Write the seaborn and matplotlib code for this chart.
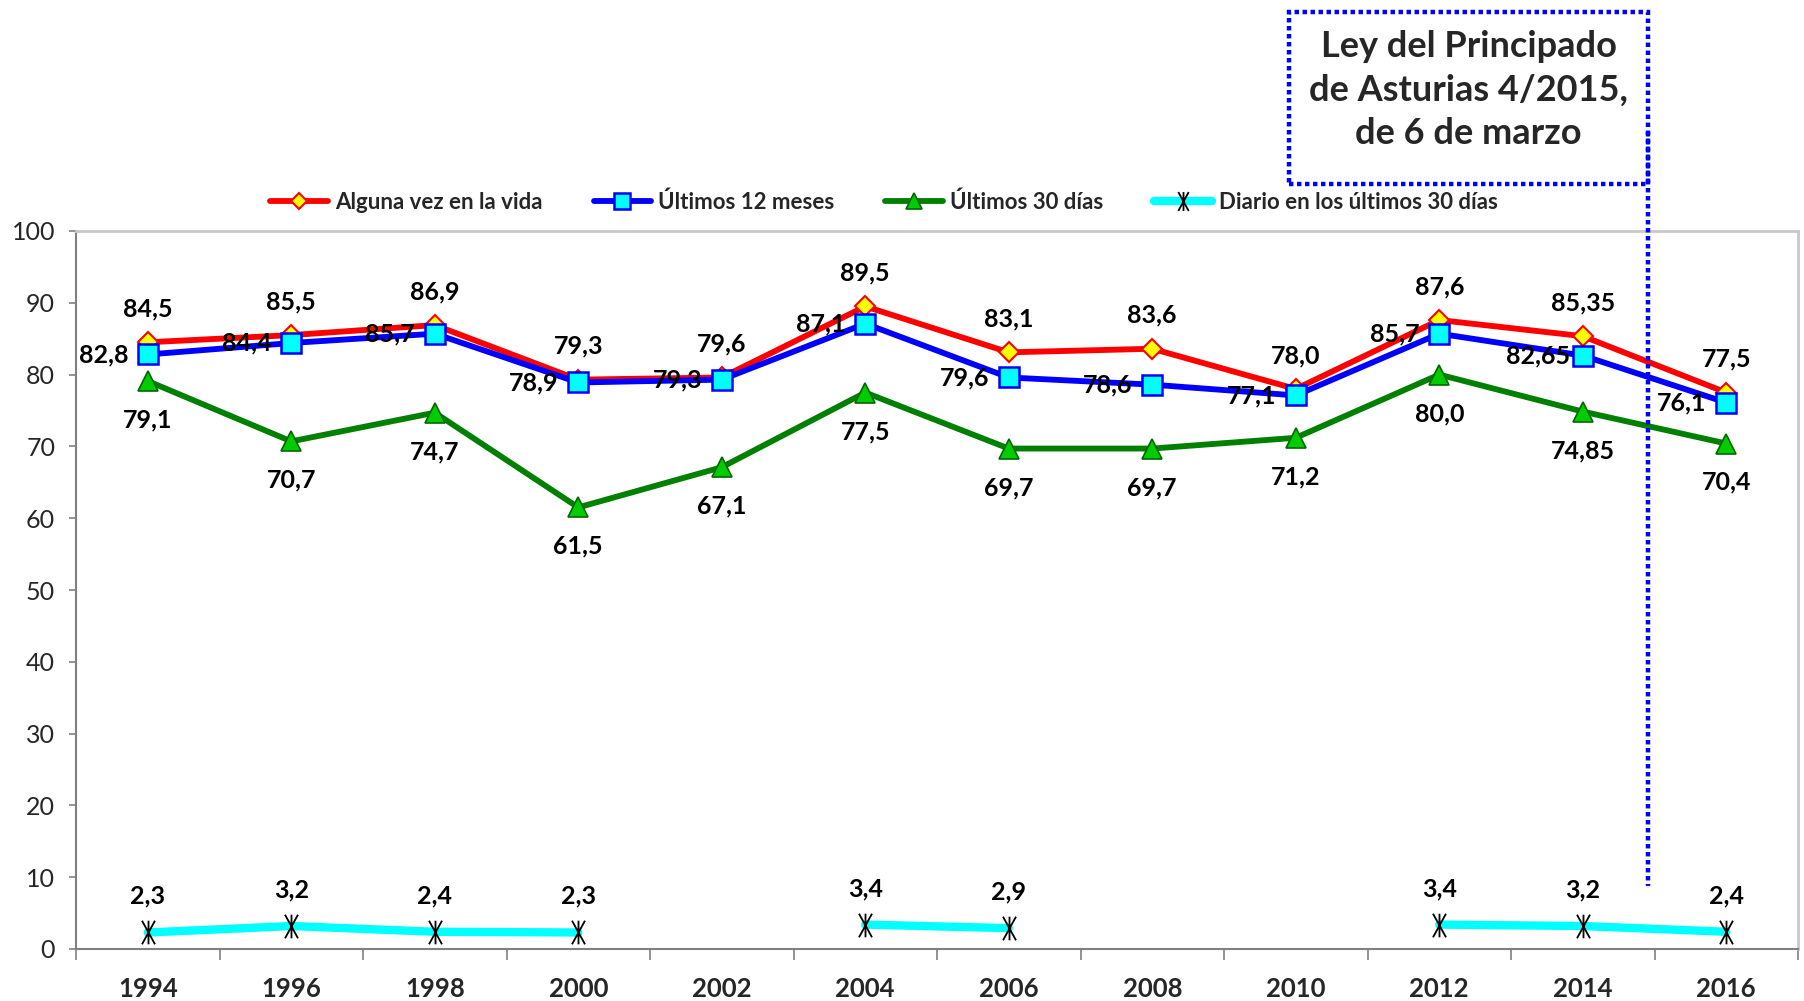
import numpy as np
import pandas as pd
import matplotlib
matplotlib.use('Agg')
import matplotlib.pyplot as plt
import seaborn as sns
from matplotlib.lines import Line2D
from matplotlib.patches import Rectangle
from matplotlib.path import Path

years = ['1994', '1996', '1998', '2000', '2002', '2004', '2006', '2008', '2010', '2012', '2014', '2016']
alguna_vez = [84.5, 85.5, 86.9, 79.3, 79.6, 89.5, 83.1, 83.6, 78.0, 87.6, 85.35, 77.5]
ultimos_12 = [82.8, 84.4, 85.7, 78.9, 79.3, 87.1, 79.6, 78.6, 77.1, 85.7, 82.65, 76.1]
ultimos_30 = [79.1, 70.7, 74.7, 61.5, 67.1, 77.5, 69.7, 69.7, 71.2, 80.0, 74.85, 70.4]
diario_30 = [2.3, 3.2, 2.4, 2.3, np.nan, 3.4, 2.9, np.nan, np.nan, 3.4, 3.2, 2.4]
series_names = ['Alguna vez en la vida', 'Últimos 12 meses', 'Últimos 30 días',
                'Diario en los últimos 30 días']
y_ticks = [0, 10, 20, 30, 40, 50, 60, 70, 80, 90, 100]
box_text = 'Ley del Principado\nde Asturias 4/2015,\nde 6 de marzo'

sns.set_style('white')
plt.rcParams['font.family'] = ['Lato', 'DejaVu Sans']

fig = plt.figure(figsize=(18.04, 10.01), dpi=100)
ax = fig.add_axes([76/1804, 1-949/1001, (1798-76)/1804, (949-231)/1001])

star = Path([(0, -1), (0, 1), (-0.55, -1), (0.55, 1), (-0.55, 1), (0.55, -1)],
            [Path.MOVETO, Path.LINETO, Path.MOVETO, Path.LINETO, Path.MOVETO, Path.LINETO])

styles = [
    dict(color='#ff0000', lw=4.2, marker='D', markersize=10.5, markerfacecolor='#ffff00', mec='#ff0000', mew=1.5, off=(0, 24)),
    dict(color='#0000ff', lw=4.2, marker='s', markersize=14, markerfacecolor='#00ffff', mec='#0000ff', mew=1.8, off=(-32, 0)),
    dict(color='#008000', lw=4.2, marker='^', markersize=14, markerfacecolor='#00cc00', mec='#006600', mew=1.2, off=(0, -28)),
    dict(color='#00ffff', lw=6, marker=star, markersize=17, markerfacecolor='black', mec='black', mew=1.3, off=(0, 26)),
]
all_series = [alguna_vez, ultimos_12, ultimos_30, diario_30]


def fmt(v):
    if abs(v * 10 - round(v * 10)) > 1e-6:
        s = f"{v:.2f}"
    else:
        s = f"{v:.1f}"
    return s.replace('.', ',')


handles = []
for name, vals, st in zip(series_names, all_series, styles):
    arr = np.array(vals, dtype=float)
    seg = np.cumsum(np.isnan(arr))
    df = pd.DataFrame({'x': np.arange(len(years)), 'y': arr, 'seg': seg}).dropna()
    sns.lineplot(data=df, x='x', y='y', units='seg', estimator=None, ax=ax,
                 color=st['color'], lw=st['lw'], marker=st['marker'],
                 markersize=st['markersize'], markerfacecolor=st['markerfacecolor'],
                 mec=st['mec'], mew=st['mew'], legend=False, zorder=3)
    for i, v in enumerate(arr):
        if np.isnan(v):
            continue
        ax.annotate(fmt(v), (i, v), xytext=st['off'], textcoords='offset points',
                    ha='center', va='center', fontsize=18, fontweight='bold', color='black', zorder=5)
    handles.append(Line2D([], [], color=st['color'], lw=st['lw'], marker=st['marker'],
                          markersize=st['markersize'] * 0.8, markerfacecolor=st['markerfacecolor'],
                          markeredgecolor=st['mec'], markeredgewidth=st['mew']))

ax.set_xlim(-0.5, len(years) - 0.5)
ax.set_ylim(0, 100)
ax.set_yticks(y_ticks)
ax.set_xticks(np.arange(-0.5, len(years), 1))
ax.set_xticklabels([])
ax.set_xticks(np.arange(len(years)), labels=years, minor=True)
for lbl in ax.get_xticklabels(minor=True):
    lbl.set_fontweight('bold')
ax.tick_params(axis='x', which='major', length=8, width=1.2, color='#808080', direction='out', bottom=True)
ax.tick_params(axis='x', which='minor', length=0, pad=20, labelsize=18.5, bottom=True)
ax.tick_params(axis='y', length=5, width=1.2, color='#808080', direction='out', left=True, pad=10, labelsize=18)
ax.set_xlabel('')
ax.set_ylabel('')
for sp in ['left', 'bottom']:
    ax.spines[sp].set_color('#808080')
    ax.spines[sp].set_linewidth(1.5)
for sp in ['top', 'right']:
    ax.spines[sp].set_color('#c8c8c8')
    ax.spines[sp].set_linewidth(2)
ax.grid(False)

fig.legend(handles, series_names, loc='center', bbox_to_anchor=(0.49, 0.798), ncol=4,
           frameon=False, prop=dict(size=16, weight='bold'), handlelength=2.6,
           columnspacing=2.3, handletextpad=0.3)

# Annotation box and vertical dotted line
bx0, bx1 = 1289/1804, 1648/1804
by0, by1 = 1-184/1001, 1-12/1001
fig.patches.append(Rectangle((bx0, by0), bx1-bx0, by1-by0, transform=fig.transFigure,
                             fill=False, edgecolor='#0000ff', lw=3.2, linestyle=(0, (1, 0.8))))
fig.text((bx0+bx1)/2, (by0+by1)/2 + 0.008, box_text, ha='center', va='center',
         fontsize=26, fontweight='bold', linespacing=1.4)
fig.lines.append(Line2D([bx1, bx1], [1-132/1001, 1-886/1001], transform=fig.transFigure,
                        color='#0000ff', lw=3.2, linestyle=(0, (1, 0.8))))

fig.savefig('out.png', dpi=100, facecolor='white')
